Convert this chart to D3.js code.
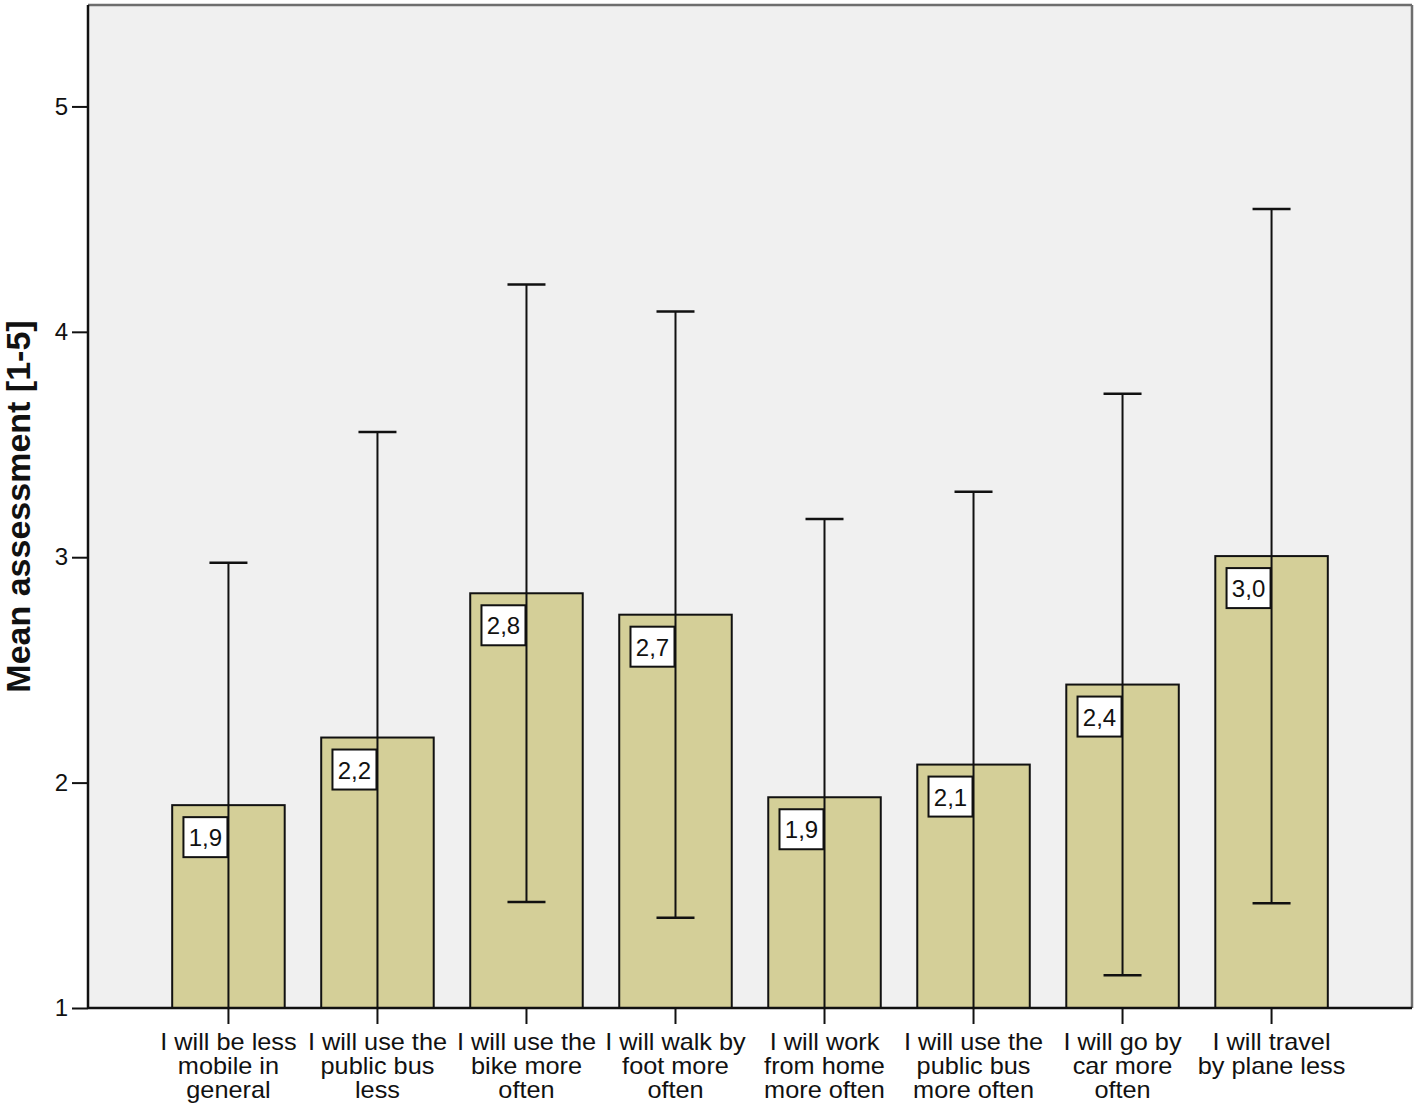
<!DOCTYPE html>
<html><head><meta charset="utf-8">
<script src="https://cdn.jsdelivr.net/npm/d3@7"></script>
<style>body{margin:0;background:#fff;} svg{display:block;}</style>
</head><body>
<svg id="c" width="1418" height="1108"></svg>
<script>
const categories = [
  ["I will be less","mobile in","general"],
  ["I will use the","public bus","less"],
  ["I will use the","bike more","often"],
  ["I will walk by","foot more","often"],
  ["I will work","from home","more often"],
  ["I will use the","public bus","more often"],
  ["I will go by","car more","often"],
  ["I will travel","by plane less"]
];
const means = [1.90, 2.20, 2.84, 2.745, 1.935, 2.08, 2.435, 3.005];
const upper = [2.975, 3.555, 4.21, 4.09, 3.17, 3.29, 3.725, 4.545];
const lower = [0.825, 0.845, 1.47, 1.40, 0.70, 0.87, 1.145, 1.465];
const valueLabels = ["1,9","2,2","2,8","2,7","1,9","2,1","2,4","3,0"];
const yTicks = [1,2,3,4,5];

const FONT = "Arial, 'Liberation Sans', sans-serif";
const svg = d3.select("#c");
const L = 88, R = 1412, T = 5, B = 1008;
const keys = categories.map((c,i)=>i);
const x = d3.scaleBand().domain(keys).range([L,R]).paddingInner(0.245).paddingOuter(0.565);
const y = d3.scaleLinear().domain([1,5.45]).range([B,T]);

svg.append("rect").attr("x",L).attr("y",T).attr("width",R-L).attr("height",B-T).attr("fill","#f0f0f0");
svg.append("line").attr("x1",L).attr("x2",R).attr("y1",T).attr("y2",T).attr("stroke","#6e6e6e").attr("stroke-width",2.5);
svg.append("line").attr("x1",R).attr("x2",R).attr("y1",T).attr("y2",B).attr("stroke","#6e6e6e").attr("stroke-width",2.5);

const g = svg.append("g");
const clipId = "pc";
svg.append("clipPath").attr("id",clipId).append("rect").attr("x",L).attr("y",T).attr("width",R-L).attr("height",B-T);

g.selectAll("rect.bar").data(means).enter().append("rect")
  .attr("x",(d,i)=>x(i)).attr("width",x.bandwidth())
  .attr("y",d=>y(d)).attr("height",d=>B-y(d))
  .attr("fill","#d4cf98").attr("stroke","#111").attr("stroke-width",2);

const eg = g.append("g").attr("clip-path",`url(#${clipId})`);
const cx = i => x(i)+x.bandwidth()/2;
eg.selectAll("line.v").data(means).enter().append("line")
  .attr("x1",(d,i)=>cx(i)).attr("x2",(d,i)=>cx(i))
  .attr("y1",(d,i)=>y(upper[i])).attr("y2",(d,i)=>y(lower[i]))
  .attr("stroke","#111").attr("stroke-width",2);
eg.selectAll("line.cu").data(means).enter().append("line")
  .attr("x1",(d,i)=>cx(i)-19).attr("x2",(d,i)=>cx(i)+19)
  .attr("y1",(d,i)=>y(upper[i])).attr("y2",(d,i)=>y(upper[i]))
  .attr("stroke","#111").attr("stroke-width",2.5);
eg.selectAll("line.cl").data(means).enter().append("line")
  .attr("x1",(d,i)=>cx(i)-19).attr("x2",(d,i)=>cx(i)+19)
  .attr("y1",(d,i)=>y(lower[i])).attr("y2",(d,i)=>y(lower[i]))
  .attr("stroke","#111").attr("stroke-width",2.5);

const lg = g.selectAll("g.lab").data(means).enter().append("g");
lg.append("rect").attr("x",(d,i)=>cx(i)-45).attr("y",d=>y(d)+12)
  .attr("width",44).attr("height",40).attr("fill","#fff").attr("stroke","#111").attr("stroke-width",2);
lg.append("text").attr("x",(d,i)=>cx(i)-23).attr("y",d=>y(d)+41)
  .attr("text-anchor","middle").attr("font-family",FONT)
  .attr("font-size",24).attr("fill","#111").text((d,i)=>valueLabels[i]);

const ya = svg.append("g").attr("transform",`translate(${L},0)`)
  .call(d3.axisLeft(y).tickValues(yTicks).tickSize(16).tickPadding(4).tickFormat(d3.format("d")));
ya.select(".domain").attr("stroke","#111").attr("stroke-width",2.5).attr("d",`M0,${T}V${B}`);
ya.selectAll(".tick line").attr("stroke","#111").attr("stroke-width",2);
ya.selectAll(".tick text").attr("font-family",FONT).attr("font-size",24).attr("fill","#111");

const xa = svg.append("g").attr("transform",`translate(0,${B})`)
  .call(d3.axisBottom(x).tickSize(16).tickFormat(""));
xa.select(".domain").attr("stroke","#111").attr("stroke-width",2.5).attr("d",`M${L},0H${R}`);
xa.selectAll(".tick line").attr("stroke","#111").attr("stroke-width",2);
xa.selectAll(".tick").each(function(d){
  const t = d3.select(this).append("text").attr("text-anchor","middle")
    .attr("transform","scale(1.1,1)")
    .attr("font-family",FONT).attr("font-size",23).attr("fill","#111");
  categories[d].forEach((line,k)=>{
    t.append("tspan").attr("x",0).attr("y",42+k*24).text(line);
  });
});

svg.append("text").attr("transform",`translate(30,${(T+B)/2}) rotate(-90)`)
  .attr("text-anchor","middle").attr("font-family",FONT)
  .attr("font-weight","bold").attr("font-size",34).attr("fill","#111").text("Mean assessment [1-5]");
</script>
</body></html>
